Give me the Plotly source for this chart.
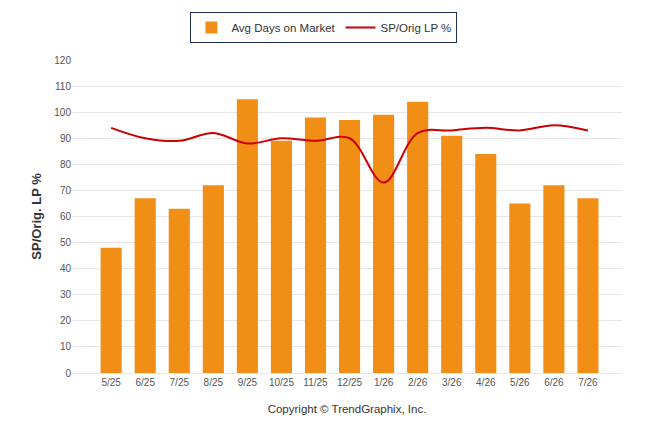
import plotly.graph_objects as go

months = ["5/25", "6/25", "7/25", "8/25", "9/25", "10/25", "11/25", "12/25",
          "1/26", "2/26", "3/26", "4/26", "5/26", "6/26", "7/26"]
avg_days = [48, 67, 63, 72, 105, 89, 98, 97, 99, 104, 91, 84, 65, 72, 67]
sp_orig_lp = [94, 90, 89, 92, 88, 90, 89, 90, 73, 92, 93, 94, 93, 95, 93]

x_idx = list(range(len(months)))

fig = go.Figure()
fig.add_trace(go.Bar(
    x=x_idx, y=avg_days, name="Avg Days on Market",
    marker=dict(color="#F08E16", line=dict(width=0)),
    width=0.62,
))
fig.add_trace(go.Scatter(
    x=x_idx, y=sp_orig_lp, name="SP/Orig LP %",
    mode="lines",
    line=dict(color="#CC0000", width=2, shape="spline", smoothing=1.0),
))

fig.update_layout(
    width=646, height=434,
    margin=dict(l=64, r=32, t=52, b=69, autoexpand=False),
    paper_bgcolor="white", plot_bgcolor="white",
    font=dict(family="Liberation Sans, Arial, sans-serif", color="#333333"),
    showlegend=True,
    legend=dict(
        orientation="h", x=0.489, xanchor="center", xref="container",
        y=0.991, yanchor="top", yref="container",
        bordercolor="#1F2F5C", borderwidth=1, bgcolor="white",
        font=dict(size=11.5, color="#333333"),
        itemwidth=30,
    ),
    xaxis=dict(
        tickmode="array", tickvals=x_idx, ticktext=months,
        range=[-1.15, 15.0],
        showgrid=False, zeroline=False,
        showline=True, linecolor="#E6E6E6", linewidth=1,
        tickfont=dict(size=10, color="#555555"),
        ticks="",
        title=dict(text="Copyright © TrendGraphix, Inc.", font=dict(size=11.5, color="#333333"), standoff=17),
    ),
    yaxis=dict(
        range=[0, 120], dtick=10,
        showgrid=True, gridcolor="#E6E6E6", gridwidth=1,
        zeroline=False,
        tickfont=dict(size=10, color="#555555"),
        title=dict(text="<b>SP/Orig. LP %</b>", font=dict(size=13, color="#333333"), standoff=9),
    ),
)

fig.write_html("out.html")
